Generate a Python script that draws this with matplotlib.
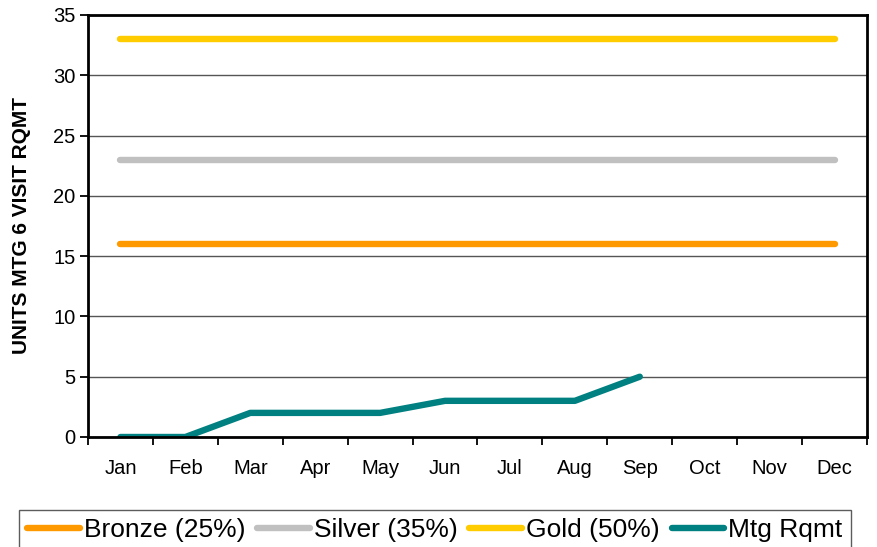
import matplotlib
matplotlib.use("Agg")
import matplotlib.pyplot as plt
from matplotlib.ticker import FixedLocator, NullFormatter

plt.rcParams['font.family'] = ['Liberation Sans', 'DejaVu Sans']

months = ["Jan", "Feb", "Mar", "Apr", "May", "Jun", "Jul", "Aug", "Sep", "Oct", "Nov", "Dec"]
bronze = [16] * 12
silver = [23] * 12
gold = [33] * 12
mtg = [0, 0, 2, 2, 2, 3, 3, 3, 5]

fig = plt.figure(figsize=(8.78, 5.47), dpi=100)
ax = fig.add_axes([88/878, 1-437/547, (867-88)/878, (437-15)/547])

x = list(range(len(months)))
lw = 4.6
l1, = ax.plot(x, bronze, color="#FF9900", lw=lw, solid_capstyle="round", label="Bronze (25%)")
l2, = ax.plot(x, silver, color="#C0C0C0", lw=lw, solid_capstyle="round", label="Silver (35%)")
l3, = ax.plot(x, gold, color="#FFCC00", lw=lw, solid_capstyle="round", label="Gold (50%)")
l4, = ax.plot(x[:len(mtg)], mtg, color="#008080", lw=lw, solid_capstyle="round", label="Mtg Rqmt")

ax.set_xlim(-0.5, 11.5)
ax.set_ylim(0, 35)
ax.set_yticks(range(0, 36, 5))
ax.yaxis.grid(True, color="#555555", lw=1.0)
ax.set_axisbelow(True)
ax.set_xticks(x)
ax.set_xticklabels(months)
ax.tick_params(axis='x', which='major', length=0, pad=16, labelsize=14.5)
ax.xaxis.set_minor_locator(FixedLocator([i - 0.5 for i in range(13)]))
ax.xaxis.set_minor_formatter(NullFormatter())
ax.tick_params(axis='x', which='minor', length=6, width=1.3, direction='out')
ax.tick_params(axis='y', length=6, width=1.3, direction='out', labelsize=14.5, pad=3)
for s in ax.spines.values():
    s.set_linewidth(2)
    s.set_color("black")

ax.set_ylabel("UNITS MTG 6 VISIT RQMT", fontweight="bold", fontsize=15, va="center")
ax.yaxis.set_label_coords((22-88)/779, 0.5)

leg = fig.legend(handles=[l1, l2, l3, l4], loc="upper left",
                 bbox_to_anchor=(19/878, 1-510/547),
                 ncol=4, frameon=True, fancybox=False,
                 edgecolor="#333333", fontsize=19, handlelength=2.0,
                 handletextpad=0.15, columnspacing=0.45, borderpad=0.3,
                 borderaxespad=0)
leg.get_frame().set_linewidth(1.0)

fig.savefig("out.png", dpi=100)
